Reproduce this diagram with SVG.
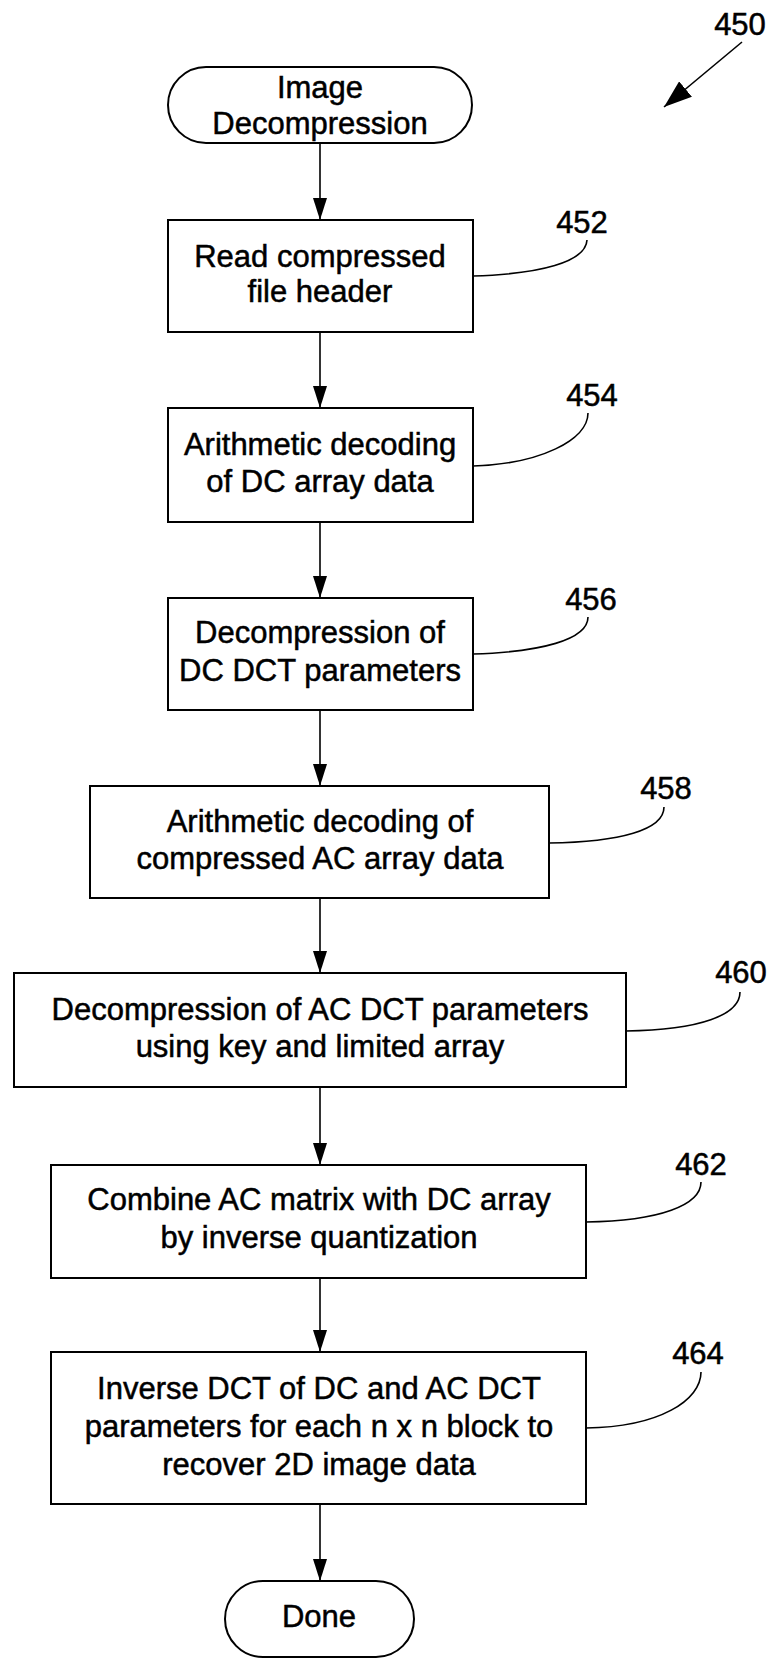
<svg xmlns="http://www.w3.org/2000/svg" width="770" height="1664" viewBox="0 0 770 1664">
<style>
.n{fill:#fff;stroke:#000;stroke-width:2}
.t{font-family:"Liberation Sans",Arial,sans-serif;font-size:31px;fill:#000;stroke:#000;stroke-width:0.5;text-anchor:middle}
.l{font-family:"Liberation Sans",Arial,sans-serif;font-size:31px;fill:#000;stroke:#000;stroke-width:0.5;text-anchor:middle}
.c{fill:none;stroke:#000;stroke-width:1.6}
.ld{fill:none;stroke:#000;stroke-width:1.6}
</style>
<defs>
<marker id="ah" markerUnits="userSpaceOnUse" markerWidth="22" markerHeight="14" viewBox="0 0 22 14" refX="22" refY="7" orient="auto">
<path d="M0,0 L22,7 L0,14 z" fill="#000"/>
</marker>
<marker id="ah2" markerUnits="userSpaceOnUse" markerWidth="28" markerHeight="20" viewBox="0 0 28 20" refX="28" refY="10" orient="auto">
<path d="M0,0 L28,10 L0,20 z" fill="#000"/>
</marker>
</defs>
<rect width="770" height="1664" fill="#fff"/>

<g id="ref450">
<text class="l" x="740" y="35">450</text>
<line class="c" x1="742" y1="42" x2="664" y2="107" marker-end="url(#ah2)"/>
</g>

<g id="connectors">
<line class="c" x1="320" y1="143" x2="320" y2="220" marker-end="url(#ah)"/>
<line class="c" x1="320" y1="332" x2="320" y2="408" marker-end="url(#ah)"/>
<line class="c" x1="320" y1="522" x2="320" y2="598" marker-end="url(#ah)"/>
<line class="c" x1="320" y1="710" x2="320" y2="786" marker-end="url(#ah)"/>
<line class="c" x1="320" y1="898" x2="320" y2="973" marker-end="url(#ah)"/>
<line class="c" x1="320" y1="1087" x2="320" y2="1165" marker-end="url(#ah)"/>
<line class="c" x1="320" y1="1278" x2="320" y2="1352" marker-end="url(#ah)"/>
<line class="c" x1="320" y1="1504" x2="320" y2="1581" marker-end="url(#ah)"/>
</g>

<g id="start">
<rect class="n" x="168" y="67" width="304" height="76" rx="38" ry="38"/>
<text class="t" x="320" y="98">Image</text>
<text class="t" x="320" y="134">Decompression</text>
</g>

<g id="n452">
<rect class="n" x="168" y="220" width="305" height="112"/>
<text class="t" x="320" y="267">Read compressed</text>
<text class="t" x="320" y="302">file header</text>
<path class="ld" d="M473,276 C540,274 586,262 587,240"/>
<text class="l" x="582" y="233">452</text>
</g>

<g id="n454">
<rect class="n" x="168" y="408" width="305" height="114"/>
<text class="t" x="320" y="455">Arithmetic decoding</text>
<text class="t" x="320" y="492">of DC array data</text>
<path class="ld" d="M473,466 C540,464 588,440 588,413"/>
<text class="l" x="592" y="406">454</text>
</g>

<g id="n456">
<rect class="n" x="168" y="598" width="305" height="112"/>
<text class="t" x="320" y="643">Decompression of</text>
<text class="t" x="320" y="681">DC DCT parameters</text>
<path class="ld" d="M473,654 C540,652 588,640 588,617"/>
<text class="l" x="591" y="610">456</text>
</g>

<g id="n458">
<rect class="n" x="90" y="786" width="459" height="112"/>
<text class="t" x="320" y="832">Arithmetic decoding of</text>
<text class="t" x="320" y="869">compressed AC array data</text>
<path class="ld" d="M549,843 C620,842 664,830 664,807"/>
<text class="l" x="666" y="799">458</text>
</g>

<g id="n460">
<rect class="n" x="14" y="973" width="612" height="114"/>
<text class="t" x="320" y="1020">Decompression of AC DCT parameters</text>
<text class="t" x="320" y="1057">using key and limited array</text>
<path class="ld" d="M626,1031 C700,1030 740,1015 740,992"/>
<text class="l" x="741" y="983">460</text>
</g>

<g id="n462">
<rect class="n" x="51" y="1165" width="535" height="113"/>
<text class="t" x="319" y="1210">Combine AC matrix with DC array</text>
<text class="t" x="319" y="1248">by inverse quantization</text>
<path class="ld" d="M586,1222 C660,1221 701,1205 701,1182"/>
<text class="l" x="701" y="1175">462</text>
</g>

<g id="n464">
<rect class="n" x="51" y="1352" width="535" height="152"/>
<text class="t" x="319" y="1399">Inverse DCT of DC and AC DCT</text>
<text class="t" x="319" y="1437">parameters for each n x n block to</text>
<text class="t" x="319" y="1475">recover 2D image data</text>
<path class="ld" d="M586,1428 C660,1427 701,1400 701,1372"/>
<text class="l" x="698" y="1364">464</text>
</g>

<g id="done">
<rect class="n" x="225" y="1581" width="189" height="76" rx="38" ry="38"/>
<text class="t" x="319" y="1627">Done</text>
</g>
</svg>
